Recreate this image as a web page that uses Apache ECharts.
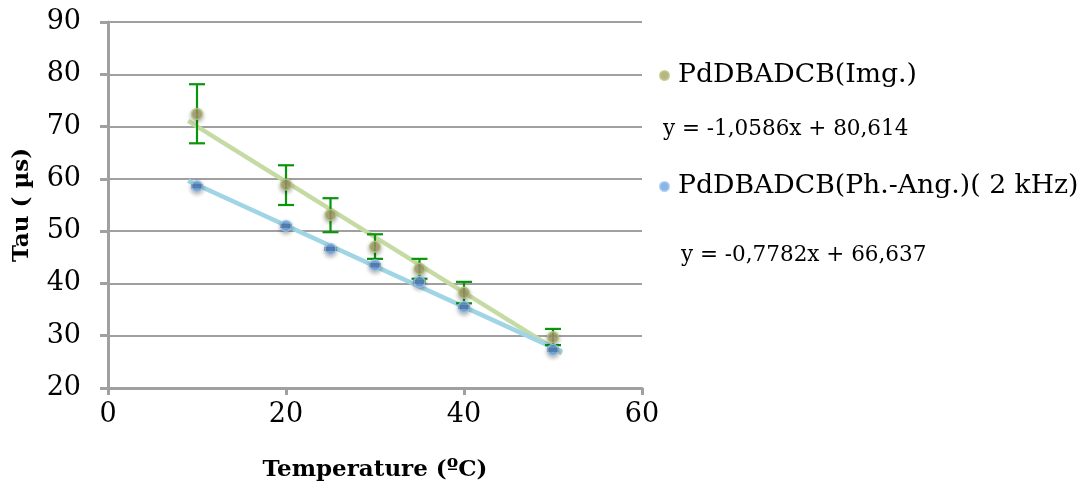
<!DOCTYPE html>
<html><head><meta charset="utf-8">
<script src="https://cdn.jsdelivr.net/npm/echarts@6/dist/echarts.min.js"></script>
<style>html,body{margin:0;padding:0;background:#fff}#c{width:1087px;height:491px}</style>
</head><body><div id="c"></div>
<script>
const temps = [10, 20, 25, 30, 35, 40, 50];
const imgTau = [72.4, 58.9, 53.1, 47.0, 42.8, 38.2, 29.7];
const imgErrHigh = [78.1, 62.6, 56.3, 49.4, 44.7, 40.3, 31.3];
const imgErrLow = [66.8, 55.0, 49.8, 44.7, 40.9, 36.2, 28.2];
const phTau = [58.6, 51.0, 46.6, 43.5, 40.3, 35.5, 27.3];
const phErrHigh = [58.8, 51.2, 46.8, 43.7, 40.5, 35.7, 27.5];
const phErrLow = [58.4, 50.8, 46.4, 43.3, 40.1, 35.3, 27.1];
const imgTrend = {slope: -1.0586, intercept: 80.614};
const phTrend = {slope: -0.7782, intercept: 66.637};
const trendRange = [9, 51];
const seriesNames = ['PdDBADCB(Img.)', 'PdDBADCB(Ph.-Ang.)( 2 kHz)'];
const eqLabels = ['y = -1,0586x + 80,614', 'y = -0,7782x + 66,637'];
const xTicks = [0, 20, 40, 60];
const yTicks = [20, 30, 40, 50, 60, 70, 80, 90];

const FONT = '"DejaVu Serif", serif';
const chart = echarts.init(document.getElementById('c'), null, {renderer: 'canvas'});

function trendData(t) { return trendRange.map(x => [x, t.slope * x + t.intercept]); }
function errData(lo, hi) { return temps.map((x, i) => [x, lo[i], hi[i]]); }
function errRender(color, capW, lw) {
  return function (params, api) {
    const x = api.value(0);
    const lo = api.coord([x, api.value(1)]);
    const hi = api.coord([x, api.value(2)]);
    const st = {stroke: color, lineWidth: lw};
    return {type: 'group', children: [
      {type: 'line', shape: {x1: lo[0], y1: lo[1], x2: hi[0], y2: hi[1]}, style: st},
      {type: 'line', shape: {x1: hi[0] - capW, y1: hi[1], x2: hi[0] + capW, y2: hi[1]}, style: st},
      {type: 'line', shape: {x1: lo[0] - capW, y1: lo[1], x2: lo[0] + capW, y2: lo[1]}, style: st}
    ]};
  };
}

chart.setOption({
  animation: false,
  backgroundColor: '#fff',
  grid: {left: 108, right: 445, top: 22, bottom: 103, containLabel: false},
  xAxis: {
    type: 'value', min: 0, max: 60, interval: 20,
    name: 'Temperature (ºC)', nameLocation: 'middle', nameGap: 71,
    nameTextStyle: {fontFamily: FONT, fontWeight: 'bold', fontSize: 23, color: '#000'},
    axisLine: {show: true, lineStyle: {color: '#a0a0a0', width: 3}},
    axisTick: {show: true, inside: false, length: 7, lineStyle: {color: '#a0a0a0', width: 3}},
    axisLabel: {fontFamily: FONT, fontSize: 27, color: '#000', margin: 13,
      formatter: v => xTicks.includes(v) ? String(v) : ''},
    splitLine: {show: false}
  },
  yAxis: {
    type: 'value', min: 20, max: 90, interval: 10,
    name: 'Tau ( µs)', nameLocation: 'middle', nameGap: 74, nameRotate: 90,
    nameTextStyle: {fontFamily: FONT, fontWeight: 'bold', fontSize: 23, color: '#000'},
    axisLine: {show: true, lineStyle: {color: '#a0a0a0', width: 3}},
    axisTick: {show: true, inside: false, length: 8, lineStyle: {color: '#a0a0a0', width: 3}},
    axisLabel: {fontFamily: FONT, fontSize: 27, color: '#000', margin: 27,
      formatter: v => yTicks.includes(v) ? String(v) : ''},
    splitLine: {show: true, lineStyle: {color: '#a0a0a0', width: 2}}
  },
  legend: {
    orient: 'vertical', left: 654, top: 57, itemGap: 84,
    icon: 'circle', itemWidth: 9, itemHeight: 9,
    textStyle: {fontFamily: FONT, fontSize: 26.7, color: '#000', padding: [0, 0, 0, 4]},
    data: seriesNames
  },
  graphic: [
    {type: 'text', left: 663, top: 118, style: {text: eqLabels[0], font: '21.5px ' + FONT, fill: '#000'}},
    {type: 'text', left: 681, top: 244, style: {text: eqLabels[1], font: '21.5px ' + FONT, fill: '#000'}}
  ],
  series: [
    {name: 'trendImg', type: 'line', data: trendData(imgTrend), symbol: 'none', z: 2,
      lineStyle: {color: '#c6dba3', width: 4.5}},
    {name: 'trendPh', type: 'line', data: trendData(phTrend), symbol: 'none', z: 2,
      lineStyle: {color: '#9fd5e4', width: 4.5}},
    {name: 'errImg', type: 'custom', data: errData(imgErrLow, imgErrHigh), z: 3,
      renderItem: errRender('#0a950a', 8, 2.2)},
    {name: 'errPh', type: 'custom', data: errData(phErrLow, phErrHigh), z: 3,
      renderItem: errRender('#000', 6, 2)},
    {name: seriesNames[0], type: 'scatter', data: temps.map((x, i) => [x, imgTau[i]]), z: 4,
      symbol: 'circle', symbolSize: 11,
      itemStyle: {color: '#ab9f6f', borderColor: '#b4cc7a', borderWidth: 1.5,
        shadowBlur: 4, shadowColor: 'rgba(0,0,0,0.35)', shadowOffsetY: 2}},
    {name: seriesNames[1], type: 'scatter', data: temps.map((x, i) => [x, phTau[i]]), z: 4,
      symbol: 'circle', symbolSize: 11,
      itemStyle: {color: '#6aa2de', borderColor: '#9cc4ee', borderWidth: 1.5,
        shadowBlur: 4, shadowColor: 'rgba(0,0,0,0.35)', shadowOffsetY: 2}}
  ]
});
</script></body></html>
